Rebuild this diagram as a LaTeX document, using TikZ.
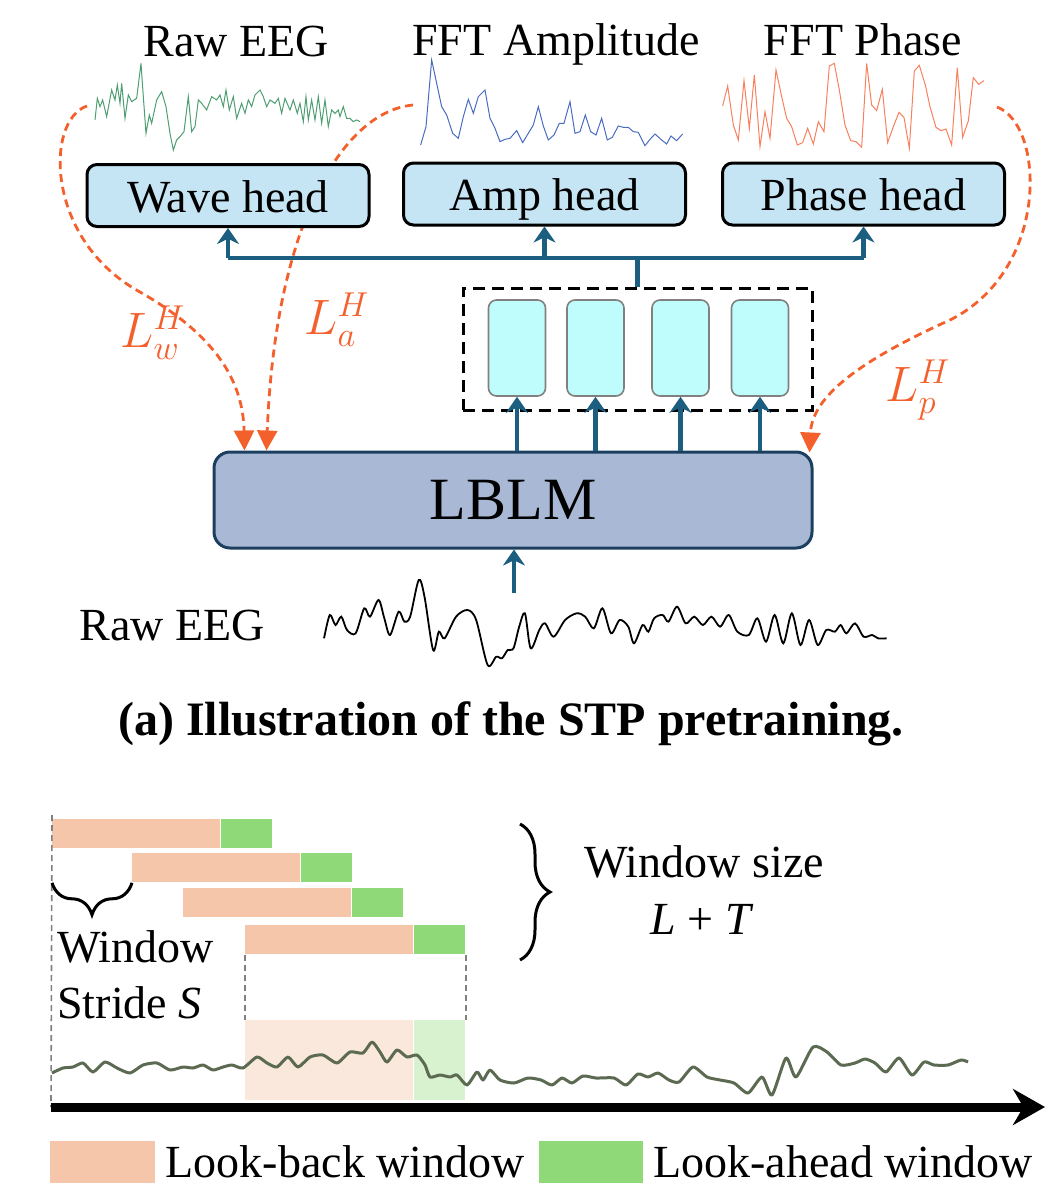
\documentclass[tikz,border=0pt]{standalone}
\usepackage{fontspec}
\setmainfont{Liberation Serif}
\usepackage{xcolor}
\usepackage{amsmath}
\usepackage{tikz}
\usetikzlibrary{arrows.meta}
\usetikzlibrary{positioning}
\usetikzlibrary{decorations.pathreplacing}

\definecolor{headblue}{HTML}{C6E5F4}
\definecolor{busblue}{HTML}{1B5E7F}
\definecolor{tokcyan}{HTML}{BFFCFC}
\definecolor{lblmfill}{HTML}{A9B9D5}
\definecolor{lblmedge}{HTML}{1C3F5F}
\definecolor{lossred}{HTML}{F4602C}
\definecolor{wavegreen}{HTML}{4E9E72}
\definecolor{ampblue}{HTML}{4A6CC0}
\definecolor{phaseorange}{HTML}{F7805E}
\definecolor{backpeach}{HTML}{F5C6AA}
\definecolor{aheadgreen}{HTML}{8FD978}
\definecolor{sigolive}{HTML}{5C6A52}

\begin{document}
\begin{tikzpicture}[x=0.5pt,y=-0.5pt,
  txt/.style={font=\fontsize{23}{27}\selectfont, inner sep=0pt},
  head/.style={draw=black, line width=1.5pt, fill=headblue, rounded corners=5pt,
    minimum width=141pt, minimum height=31pt, text height=16.5pt, text depth=0pt,
    font=\fontsize{23}{27}\selectfont},
  tok/.style={draw=gray, line width=0.8pt, fill=tokcyan, rounded corners=4pt,
    minimum width=28.5pt, minimum height=48pt},
  bus/.style={busblue, line width=2.2pt},
  busarr/.style={bus, -{Stealth[length=8pt,width=11pt]}},
  loss/.style={lossred, line width=1.4pt, dash pattern=on 4pt off 2.5pt,
    -{Triangle[length=10pt,width=10pt]}},
  losslbl/.style={text=lossred, font=\fontsize{26}{30}\selectfont},
  back/.style={fill=backpeach, minimum width=83.75pt, minimum height=14.5pt,
    inner sep=0pt, anchor=north west},
  ahead/.style={fill=aheadgreen, minimum width=25.85pt, minimum height=14.5pt,
    inner sep=0pt, anchor=north west},
  guide/.style={gray, line width=0.8pt, dash pattern=on 3pt off 2pt},
  curly/.style={decorate, line width=1.5pt},
]
\useasboundingbox (0,0) rectangle (1058,1194);

% (a) pretraining
\node[txt, anchor=base] (rawtop) at (236,56) {Raw EEG};
\node[txt, anchor=base] (amptop) at (556,55) {FFT Amplitude};
\node[txt, anchor=base] (phasetop) at (863,55) {FFT Phase};

\begin{scope}[shift={(60,0)}, scale=0.3333]
\draw[wavegreen, line width=0.5pt] plot coordinates {(105,360) (112,295) (120,320) (128,300) (140,350) (155,270) (165,300) (172,255) (180,310) (185,250) (195,355) (205,285) (215,305) (230,295) (243,190) (250,290) (258,400) (268,345) (275,370) (290,300) (305,275) (318,320) (330,400) (340,450) (350,420) (360,410) (372,395) (385,290) (395,395) (405,380) (415,300) (425,310) (440,330) (455,290) (470,300) (480,285) (490,320) (498,270) (508,330) (520,290) (530,355) (545,310) (555,340) (565,300) (575,320) (585,285) (600,270) (610,290) (620,320) (630,300) (645,310) (655,295) (665,340) (675,295) (690,330) (700,300) (712,340) (720,310) (730,365) (738,290) (745,360) (755,300) (765,360) (775,290) (785,370) (795,300) (805,380) (815,330) (825,340) (835,330) (840,350) (850,320) (860,355) (870,355) (880,365) (890,360) (900,365)};
\end{scope}
\begin{scope}[shift={(400,0)}, scale=0.3333]
\draw[ampblue, line width=0.5pt] plot coordinates {(62,435) (78,380) (95,180) (110,250) (125,320) (140,345) (158,400) (175,415) (190,350) (205,298) (220,340) (235,290) (255,270) (270,355) (285,385) (300,425) (315,418) (330,415) (350,392) (368,428) (385,400) (400,375) (415,320) (430,378) (445,420) (462,405) (478,370) (492,370) (510,305) (525,400) (540,395) (556,345) (572,395) (588,405) (605,355) (622,420) (637,412) (655,378) (670,382) (685,382) (700,395) (715,397) (735,437) (750,418) (765,402) (785,420) (800,432) (813,408) (830,422) (848,402)};
\end{scope}
\begin{scope}[shift={(700,0)}, scale=0.3333]
\draw[phaseorange, line width=0.5pt] plot coordinates {(68,318) (83,258) (100,375) (115,420) (132,242) (148,385) (163,225) (180,440) (195,335) (210,415) (228,210) (245,290) (260,355) (275,380) (292,435) (308,428) (323,385) (340,432) (355,365) (372,395) (388,198) (403,190) (418,270) (435,375) (452,422) (468,425) (485,442) (500,190) (515,315) (530,332) (547,268) (563,428) (580,380) (597,337) (612,352) (628,445) (643,213) (658,196) (676,255) (690,320) (708,382) (723,392) (738,387) (755,435) (772,203) (788,412) (805,363) (820,233) (836,253) (852,242)};
\end{scope}

\node[draw=lblmedge, line width=1.5pt, fill=lblmfill, rounded corners=8pt,
  minimum width=299pt, minimum height=48pt, font=\fontsize{30}{34}\selectfont]
  (lblm) at (513,500) {LBLM};

% losses (behind the heads)
\coordinate (wstart) at (87,106);
\coordinate (astart) at (413,105);
\coordinate (pstart) at (997,107);
\draw[loss] (wstart) .. controls (45,120) and (45,240) .. (140,292)
  .. controls (215,335) and (243,380) .. ([xshift=16pt]lblm.north west);
\draw[loss] (astart) .. controls (340,112) and (275,230) .. ([xshift=27pt]lblm.north west);
\draw[loss] (pstart) .. controls (1045,125) and (1050,270) .. (950,320)
  .. controls (850,365) and (812,400) .. ([xshift=-2pt,yshift=-1pt]lblm.north east);
\node[losslbl] (lw) at (153,333) {$L^H_w$};
\node[losslbl] (la) at (337,320) {$L^H_a$};
\node[losslbl] (lp) at (918,390) {$L^H_p$};

\node[head] (wave) at (228,195.5) {Wave head};
\node[head] (amp) at (544.5,194) {Amp head};
\node[head] (phase) at (863.5,194) {Phase head};

\node[draw, line width=1.5pt, dash pattern=on 6pt off 3.5pt, minimum width=174.5pt,
  minimum height=61pt] (tokbox) at (637.5,349) {};
\foreach \x [count=\i] in {517,595.5,680.5,760}
  \node[tok] (t\i) at (\x,348) {};

\coordinate (bus) at (637.5,258);
\draw[bus] (tokbox.north) -- (bus);
\draw[bus] (wave.south |- bus) -- (phase.south |- bus);
\foreach \h in {wave,amp,phase}
  \draw[busarr] (\h.south |- bus) -- (\h.south);
\foreach \i in {1,...,4}
  \draw[busarr] (lblm.north -| t\i.south) -- (t\i.south);

\coordinate (eegin) at (514,593);
\draw[busarr] (eegin) -- (lblm.south -| eegin);

\node[txt, anchor=base] (rawbot) at (172,640) {Raw EEG};
\begin{scope}[shift={(60,550)}, xscale=0.574, yscale=0.3333]
\draw[black, line width=0.9pt] plot[smooth, tension=0.5] coordinates {(460,265) (470,195) (480,225) (490,200) (500,240) (515,250) (530,175) (540,200) (555,150) (565,205) (575,255) (590,185) (600,215) (610,200) (625,90) (635,140) (650,300) (660,245) (670,265) (690,200) (710,180) (725,210) (745,345) (760,320) (770,325) (780,300) (790,295) (800,230) (810,190) (820,295) (835,240) (845,220) (860,260) (880,210) (900,190) (915,200) (930,235) (945,175) (960,250) (975,210) (990,230) (1000,280) (1015,225) (1025,245) (1035,205) (1050,195) (1060,215) (1075,170) (1090,220) (1105,200) (1120,225) (1135,200) (1150,230) (1165,195) (1180,245) (1200,255) (1215,205) (1230,275) (1245,195) (1260,280) (1275,190) (1290,285) (1305,210) (1320,285) (1335,240) (1350,245) (1360,225) (1370,250) (1385,220) (1400,260) (1415,255) (1425,265) (1440,265)};
\end{scope}

\node[anchor=base, inner sep=0pt, font=\bfseries\fontsize{24}{28}\selectfont]
  (caption) at (511,735) {(a) Illustration of the STP pretraining.};

% sliding windows
\foreach \x/\y [count=\i] in {52/819, 132/853, 183/888, 245/925} {
  \node[back] (lb\i) at (\x,\y) {};
  \node[ahead] (la\i) at (lb\i.north east) {};
}
\node[back, fill=backpeach!40, minimum height=40pt] (lbwin) at (245,1020) {};
\node[ahead, fill=aheadgreen!35, minimum height=40pt] (lawin) at (lbwin.north east) {};
\draw[guide] (lb4.south west) -- (lbwin.north west);
\draw[guide] (la4.south east) -- (lawin.north east);

\coordinate (axstart) at (51,1107);
\coordinate (axend) at (1045,1107);
\draw[guide] ([yshift=2pt]lb1.north west) -- (axstart);

\draw[sigolive, line width=1.5pt, line join=round] plot[smooth, tension=0.4] coordinates {(52,1073) (63,1068) (73,1067) (83,1063) (93,1072) (105,1062) (117,1068) (130,1073) (143,1065) (157,1063) (170,1070) (183,1067) (193,1068) (203,1065) (213,1070) (223,1067) (232,1065) (243,1068) (257,1057) (267,1063) (277,1067) (288,1057) (298,1067) (310,1057) (323,1055) (337,1063) (350,1052) (363,1053) (372,1042) (380,1052) (387,1062) (397,1050) (407,1057) (417,1055) (425,1065) (430,1077) (440,1075) (450,1077) (457,1075) (467,1085) (477,1072) (483,1080) (490,1070) (500,1080) (514,1083) (528,1078) (541,1080) (552,1085) (562,1078) (572,1083) (583,1076) (596,1078) (614,1078) (626,1085) (638,1074) (648,1077) (658,1073) (669,1080) (679,1082) (693,1067) (707,1077) (720,1080) (734,1083) (748,1093) (762,1077) (772,1095) (786,1058) (796,1077) (813,1047) (827,1052) (841,1065) (855,1063) (865,1059) (875,1063) (886,1072) (899,1058) (912,1075) (924,1062) (934,1065) (948,1065) (961,1060) (968,1062)};

\draw[line width=4.5pt, -{Stealth[length=16pt,width=18pt]}] (axstart) -- (axend);

\draw[curly, decoration={brace, amplitude=16pt}] (lb2.south west) -- (lb2.south west -| lb1.west);
\node[txt, anchor=base west] (stride1) at (57,962) {Window};
\node[txt, anchor=base west] (stride2) at (57,1018) {Stride \textit{S}};

\coordinate (sizetop) at (520,824);
\coordinate (sizebot) at (520,960);
\draw[curly, decoration={brace, amplitude=15pt}] (sizetop) -- (sizebot);
\node[txt, anchor=base west] (wsize) at (584,877) {Window size};
\node[txt, anchor=base] (wsum) at (702,934) {\textit{L} + \textit{T}};

% legend
\node[fill=backpeach, minimum width=52.5pt, minimum height=21pt, inner sep=0pt] (keyback) at (102.5,1162) {};
\node[txt, right=5pt of keyback] (keybacklbl) {Look-back window};
\node[fill=aheadgreen, minimum width=52pt, minimum height=21pt, inner sep=0pt, right=6.5pt of keybacklbl] (keyahead) {};
\node[txt, right=5pt of keyahead] (keyaheadlbl) {Look-ahead window};
\end{tikzpicture}
\end{document}
